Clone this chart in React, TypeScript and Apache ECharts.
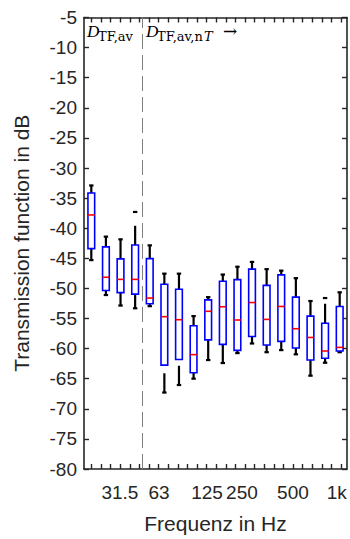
import React, { useEffect, useRef } from "react";
import * as echarts from "echarts";

// Third-octave band centre frequencies (Hz), one box each
const categories = ["20", "25", "31.5", "40", "50", "63", "80", "100", "125", "160", "200", "250", "315", "400", "500", "630", "800", "1000"];

// Box statistics in dB
const q1 = [-43.4, -50.35, -50.7, -50.95, -52.55, -62.75, -61.8, -64.0, -58.55, -59.3, -60.3, -58.0, -59.4, -58.8, -59.9, -61.9, -61.6, -60.4];
const median = [-37.8, -48.15, -48.5, -48.5, -51.6, -54.7, -55.2, -61.0, -53.8, -53.05, -55.25, -52.35, -55.15, -53.0, -56.7, -58.15, -60.4, -59.8];
const q3 = [-34.15, -43.1, -45.1, -42.8, -45.05, -49.3, -50.15, -56.2, -51.9, -48.8, -48.55, -46.8, -49.5, -47.75, -51.45, -54.6, -55.8, -53.0];
const lowCap = [-45.3, -51.1, -52.85, -53.3, -52.95, -67.3, -66.05, -65.0, -61.9, -62.4, -60.75, -59.15, -60.6, -60.25, -60.95, -64.5, -62.35, -60.6];
const highCap = [-32.9, -41.4, -41.85, -37.3, -42.85, -47.55, -47.55, -54.6, -51.45, -47.7, -46.4, -45.6, -46.8, -47.05, -48.3, -52.1, -51.6, -50.65];
// whisker line limits where the whisker does not run all the way (null = normal)
const lowLineStart: (number | null)[] = [null, null, null, null, null, -64.1, -62.85, null, null, null, null, null, null, null, null, null, null, null];
const highLineEnd: (number | null)[] = [null, null, null, -39.6, null, null, null, null, null, null, null, null, null, null, null, null, -52.55, null];

// x tick labels and their positions on the box axis
const tickLabels = ["31.5", "63", "125", "250", "500", "1k"];
const tickLabelPos = [2.46, 5.13, 8.42, 10.81, 14.3, 17.3];
const minorTickCount = 27;
const minorTickFirst = 0.513;
const minorTickStep = 0.657;

const AX = "#262626";
const FONT = "Liberation Sans";

export default function App() {
  const ref = useRef<HTMLDivElement>(null);
  useEffect(() => {
    if (!ref.current) return;
    const chart = echarts.init(ref.current, null, { renderer: "svg" });
    const tickPos = Array.from({ length: minorTickCount }, (_, k) => +(minorTickFirst + minorTickStep * k).toFixed(3));
    const data = categories.map((c, i) => [
      i + 0.5,
      q1[i],
      median[i],
      q3[i],
      lowCap[i],
      lowLineStart[i] ?? q1[i],
      highLineEnd[i] ?? highCap[i],
      highCap[i],
    ]);
    const axisCommon = {
      axisLine: { show: true, onZero: false, lineStyle: { color: AX, width: 1.6 } },
      splitLine: { show: false },
    };
    const option: any = {
      animation: false,
      grid: { left: 84, right: 3, top: 17.5, bottom: 69.3, containLabel: false },
      xAxis: [
        {
          type: "value",
          min: 0,
          max: 18,
          position: "bottom",
          ...axisCommon,
          axisTick: { show: true, inside: true, length: 5, customValues: tickPos, lineStyle: { color: AX, width: 1.4 } },
          axisLabel: {
            customValues: tickLabelPos,
            color: AX,
            fontSize: 19,
            fontFamily: FONT,
            margin: 14,
            formatter: (v: number) => {
              let best = 0;
              tickLabelPos.forEach((p, i) => {
                if (Math.abs(p - v) < Math.abs(tickLabelPos[best] - v)) best = i;
              });
              return tickLabels[best];
            },
          },
          name: "Frequenz in Hz",
          nameLocation: "middle",
          nameGap: 44,
          nameTextStyle: { color: AX, fontSize: 21, fontFamily: FONT },
        },
        {
          type: "value",
          min: 0,
          max: 18,
          position: "top",
          ...axisCommon,
          axisTick: { show: true, inside: true, length: 5, customValues: tickPos, lineStyle: { color: AX, width: 1.4 } },
          axisLabel: { show: false },
        },
      ],
      yAxis: [
        {
          type: "value",
          min: -80,
          max: -5,
          interval: 5,
          position: "left",
          ...axisCommon,
          axisTick: { show: true, inside: true, length: 5, lineStyle: { color: AX, width: 1.4 } },
          axisLabel: { color: AX, fontSize: 19, fontFamily: FONT, margin: 7 },
          name: "Transmission function in dB",
          nameLocation: "middle",
          nameGap: 52,
          nameTextStyle: { color: AX, fontSize: 21, fontFamily: FONT },
        },
        {
          type: "value",
          min: -80,
          max: -5,
          interval: 5,
          position: "right",
          ...axisCommon,
          axisTick: { show: true, inside: true, length: 5, lineStyle: { color: AX, width: 1.4 } },
          axisLabel: { show: false },
        },
      ],
      series: [
        {
          type: "custom",
          xAxisIndex: 0,
          yAxisIndex: 0,
          data,
          clip: false,
          renderItem: (params: any, api: any) => {
            const x = api.value(0);
            const P = (v: number) => api.coord([x, v]);
            const band = api.size([1, 0])[0];
            const hw = band * 0.23;
            const cw = band * 0.15;
            const [cx, yQ1] = P(api.value(1));
            const yMed = P(api.value(2))[1];
            const yQ3 = P(api.value(3))[1];
            const yLowCap = P(api.value(4))[1];
            const yLowStart = P(api.value(5))[1];
            const yHighEnd = P(api.value(6))[1];
            const yHighCap = P(api.value(7))[1];
            const wStyle = { stroke: "#000000", lineWidth: 2.2 };
            return {
              type: "group",
              children: [
                { type: "line", shape: { x1: cx, y1: yLowStart, x2: cx, y2: yLowCap }, style: wStyle },
                { type: "line", shape: { x1: cx - cw, y1: yLowCap, x2: cx + cw, y2: yLowCap }, style: wStyle },
                { type: "line", shape: { x1: cx, y1: yQ3, x2: cx, y2: yHighEnd }, style: wStyle },
                { type: "line", shape: { x1: cx - cw, y1: yHighCap, x2: cx + cw, y2: yHighCap }, style: wStyle },
                {
                  type: "rect",
                  shape: { x: cx - hw, y: yQ3, width: hw * 2, height: yQ1 - yQ3 },
                  style: { fill: "#ffffff", stroke: "#0000ff", lineWidth: 1.6 },
                },
                { type: "line", shape: { x1: cx - hw, y1: yMed, x2: cx + hw, y2: yMed }, style: { stroke: "#ff0000", lineWidth: 1.6 } },
              ],
            };
          },
          markLine: {
            silent: true,
            symbol: "none",
            label: { show: false },
            lineStyle: { type: [15, 6], color: "#7f7f7f", width: 1 },
            data: [{ xAxis: 4 }],
          },
        },
      ],
      graphic: [
        { type: "text", left: 87, top: 23, style: { text: "D", font: "italic 17px 'Liberation Serif'", fill: "#000" } },
        { type: "text", left: 98, top: 30, style: { text: "TF,av", font: "13px 'DejaVu Serif'", fill: "#000" } },
        { type: "text", left: 146, top: 23, style: { text: "D", font: "italic 17px 'Liberation Serif'", fill: "#000" } },
        { type: "text", left: 157, top: 30, style: { text: "TF,av,n", font: "13px 'DejaVu Serif'", fill: "#000" } },
        { type: "text", left: 204, top: 30, style: { text: "T", font: "italic 13px 'DejaVu Serif'", fill: "#000" } },
        { type: "text", left: 223, top: 22, style: { text: "→", font: "17px 'DejaVu Serif'", fill: "#000" } },
      ],
    };
    chart.setOption(option);
    return () => chart.dispose();
  }, []);
  return <div ref={ref} style={{ position: "fixed", left: 0, top: 0, width: 350, height: 539, background: "#fff" }} />;
}
